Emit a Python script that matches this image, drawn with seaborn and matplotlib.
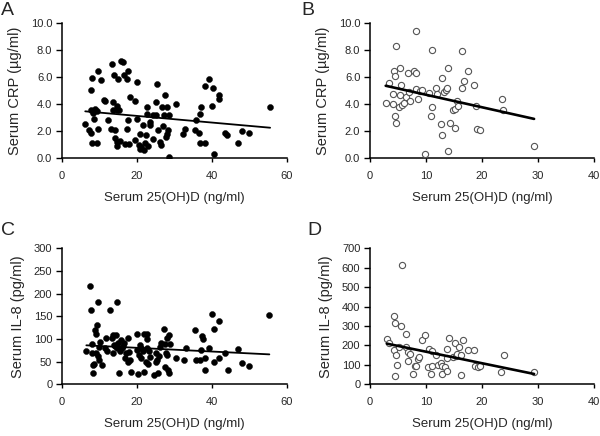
import numpy as np
import pandas as pd
import seaborn as sns
import matplotlib
matplotlib.use("Agg")
import matplotlib.pyplot as plt
from matplotlib.ticker import FormatStrFormatter

# panel A: vitamin D vs CRP (filled)
a_vitd = [6.2, 7.1, 7.7, 8.0, 9.3, 9.5, 7.7, 8.0, 7.7, 8.2, 8.8, 9.3, 8.6, 9.7, 10.4,
          11.3, 11.5, 12.4, 13.1, 13.7, 13.7, 13.3, 14.0, 14.6, 14.8, 15.0, 15.3, 14.2,
          14.2, 14.6, 14.8, 15.5, 15.8, 16.4, 16.6, 17.3, 17.5, 17.5, 17.3, 16.8, 18.0,
          18.1, 19.5, 19.9, 19.9, 19.5, 20.5, 20.8, 20.8, 21.1, 21.5, 21.9, 22.1, 22.4,
          22.7, 22.7, 23.0, 23.5, 23.6, 24.2, 24.3, 25.0, 25.2, 25.4, 25.7, 26.1, 26.3,
          26.8, 27.0, 27.2, 27.4, 27.7, 27.9, 28.1, 28.3, 28.6, 28.6, 30.4, 32.3, 32.7,
          35.4, 35.7, 36.6, 36.9, 37.2, 36.9, 38.1, 38.1, 39.1, 40.0, 40.4, 40.5, 42.0,
          42.0, 43.5, 44.0, 46.9, 48.0, 49.8, 55.5]
a_crp = [2.54, 2.05, 1.85, 1.10, 1.14, 2.15, 5.00, 5.95, 3.58, 3.33, 3.63, 3.46, 2.90,
         6.44, 5.75, 4.27, 4.20, 2.79, 2.17, 3.53, 4.15, 6.94, 6.12, 3.83, 3.53, 5.88,
         3.58, 2.05, 1.51, 1.19, 0.86, 1.23, 7.16, 7.09, 6.12, 2.17, 2.79, 6.44, 5.88,
         1.06, 1.06, 4.52, 4.20, 2.90, 5.63, 1.36, 0.94, 1.80, 0.69, 0.81, 2.42, 0.57,
         1.11, 1.68, 3.78, 3.28, 0.86, 2.42, 2.67, 1.43, 3.16, 3.21, 4.15, 5.50, 2.05,
         1.19, 0.99, 3.78, 2.35, 3.16, 4.69, 1.56, 3.78, 1.75, 2.10, 3.16, 0.07, 4.02,
         1.80, 2.17, 2.05, 2.79, 1.85, 3.28, 3.78, 1.11, 1.11, 5.31, 5.85, 3.83, 5.21,
         0.32, 4.69, 4.40, 1.85, 1.68, 1.11, 2.00, 1.88, 3.78]

# panel B: vitamin D vs CRP (open)
b_vitd = [2.8, 3.4, 4.1, 4.1, 4.3, 4.5, 4.4, 4.6, 4.6, 5.2, 5.3, 5.4, 5.5, 5.7, 6.0,
          6.4, 6.7, 6.9, 7.1, 7.8, 8.2, 8.3, 8.3, 8.6, 8.9, 9.3, 9.9, 10.5, 10.9, 11.0,
          11.0, 11.8, 11.9, 12.6, 12.9, 12.9, 13.3, 13.6, 13.8, 13.9, 13.9, 14.2, 14.8,
          15.1, 15.2, 15.5, 15.8, 16.4, 16.4, 16.7, 17.5, 18.6, 18.9, 19.1, 19.7, 23.6,
          23.8, 29.3]
b_crp = [4.07, 5.56, 4.72, 4.02, 6.42, 6.05, 3.11, 2.59, 8.27, 3.78, 6.67, 4.64, 5.38,
         3.90, 4.07, 4.52, 6.30, 4.89, 4.22, 6.44, 5.14, 6.30, 9.38, 4.40, 4.96, 5.01,
         0.32, 4.81, 3.09, 3.78, 7.98, 5.21, 4.77, 2.49, 5.93, 1.73, 4.89, 5.06, 5.19,
         6.67, 0.52, 2.59, 3.53, 3.65, 2.22, 4.22, 3.83, 5.19, 7.93, 5.68, 6.44, 5.43,
         3.85, 2.12, 2.10, 4.40, 3.53, 0.89]

# panel C: vitamin D vs IL-8 (filled)
c_vitd = [6.5, 7.5, 7.7, 8.0, 8.1, 8.2, 8.4, 8.6, 8.9, 9.0, 9.3, 9.1, 9.5, 9.7, 9.9,
          10.0, 10.2, 10.6, 11.5, 11.8, 11.9, 12.8, 13.3, 13.5, 13.7, 14.0, 14.2, 14.4,
          14.6, 14.8, 15.0, 15.3, 15.5, 15.8, 15.9, 16.2, 16.5, 16.8, 17.1, 17.5, 17.7,
          17.9, 18.3, 18.1, 19.9, 20.1, 20.4, 20.6, 20.8, 21.1, 21.2, 21.5, 21.9, 21.9,
          22.4, 22.6, 22.7, 22.8, 23.0, 23.3, 23.6, 24.5, 25.0, 25.2, 25.4, 25.7, 25.9,
          26.1, 26.5, 27.2, 27.4, 27.4, 27.7, 27.9, 28.1, 28.3, 28.6, 28.6, 28.8, 30.5,
          32.5, 33.0, 35.4, 35.8, 36.9, 37.2, 37.4, 37.6, 38.1, 38.2, 39.1, 40.1, 40.5,
          40.5, 42.0, 42.0, 43.5, 44.3, 46.9, 48.1, 50.0, 55.3]
c_il8 = [74, 217, 164, 68, 88, 42, 25, 44, 119, 110, 130, 69, 62, 182, 82, 54, 94, 42,
         79, 101, 74, 164, 103, 69, 108, 86, 84, 108, 79, 182, 90, 25, 73, 97, 79, 84,
         91, 57, 68, 101, 49, 71, 27, 53, 112, 75, 22, 64, 86, 79, 57, 74, 27, 110, 49,
         79, 99, 110, 44, 74, 60, 21, 49, 68, 54, 24, 62, 82, 90, 121, 38, 88, 68, 101,
         64, 32, 24, 108, 88, 59, 54, 79, 119, 53, 53, 75, 107, 99, 59, 32, 81, 155, 49,
         123, 140, 57, 70, 32, 77, 47, 40, 153]

# panel D: vitamin D vs IL-8 (open)
d_vitd = [3.0, 3.4, 4.2, 4.3, 4.5, 4.6, 4.5, 4.8, 5.2, 5.6, 5.8, 6.4, 6.5, 6.8, 6.8,
          7.2, 7.7, 8.1, 8.3, 8.5, 8.8, 9.2, 9.8, 10.4, 10.5, 10.9, 11.0, 11.1, 11.7,
          12.1, 12.7, 12.8, 12.9, 13.4, 13.7, 13.7, 13.8, 14.1, 14.9, 15.2, 15.3, 15.5,
          15.9, 16.3, 16.3, 16.6, 17.5, 18.6, 18.8, 19.3, 19.6, 23.4, 23.9, 29.3]
d_il8 = [235, 213, 349, 179, 315, 153, 44, 99, 192, 298, 613, 192, 257, 167, 121, 158,
         51, 94, 94, 129, 138, 227, 252, 87, 184, 53, 170, 94, 150, 99, 107, 53, 94, 87,
         181, 70, 133, 240, 141, 210, 145, 155, 192, 150, 48, 230, 179, 175, 94, 90, 94,
         65, 150, 61]

sns.set_style("ticks")
plt.rcParams['font.family'] = ['Liberation Sans', 'DejaVu Sans']

fig = plt.figure(figsize=(6, 4.36), dpi=100)

panels = [
    ("A", a_vitd, a_crp, True, [0.1033, 0.6376, 0.375, 0.310], 60, 20, 10, 2, "%.1f", "Serum CRP (µg/ml)", (0.002, 0.995)),
    ("B", b_vitd, b_crp, False, [0.6167, 0.6376, 0.3733, 0.310], 40, 10, 10, 2, "%.1f", "Serum CRP (µg/ml)", (0.502, 0.995)),
    ("C", c_vitd, c_il8, True, [0.1033, 0.1186, 0.375, 0.312], 60, 20, 300, 50, "%d", "Serum IL-8 (pg/ml)", (0.002, 0.49)),
    ("D", d_vitd, d_il8, False, [0.6167, 0.1186, 0.3733, 0.312], 40, 10, 700, 100, "%d", "Serum IL-8 (pg/ml)", (0.513, 0.49)),
]

for letter, xs, ys, filled, pos, xmax, xstep, ymax, ystep, fmt, ylab, lpos in panels:
    ax = fig.add_axes(pos)
    df = pd.DataFrame({"vitd": xs, "val": ys})
    if filled:
        sns.scatterplot(data=df, x="vitd", y="val", ax=ax, color="black",
                        s=19, edgecolor="black", linewidth=0.3, zorder=3)
        lw = 1.3
    else:
        sns.scatterplot(data=df, x="vitd", y="val", ax=ax, facecolor="white",
                        edgecolor="#555555", s=20, linewidth=0.8, zorder=3)
        lw = 1.9
    sns.regplot(data=df, x="vitd", y="val", ax=ax, scatter=False, ci=None,
                color="black", line_kws={"linewidth": lw, "zorder": 4})
    ax.set_xlim(0, xmax)
    ax.set_ylim(0, ymax)
    ax.set_xticks(np.arange(0, xmax + 1, xstep))
    ax.set_yticks(np.arange(0, ymax + 0.01, ystep))
    ax.yaxis.set_major_formatter(FormatStrFormatter(fmt))
    for side in ["top", "right"]:
        ax.spines[side].set_visible(False)
    for side in ["left", "bottom"]:
        ax.spines[side].set_linewidth(1.1)
        ax.spines[side].set_color("black")
    ax.tick_params(axis="y", length=4, width=1.0, labelsize=8, pad=3, color="black")
    ax.tick_params(axis="x", length=3, width=1.0, labelsize=8, pad=6, color="black")
    ax.set_xlabel("Serum 25(OH)D (ng/ml)", fontsize=9.5, labelpad=8)
    ax.set_ylabel(ylab, fontsize=10.5, labelpad=6)
    fig.text(lpos[0], lpos[1], letter, fontsize=14, ha="left", va="top")

fig.savefig("out.png", dpi=100)
